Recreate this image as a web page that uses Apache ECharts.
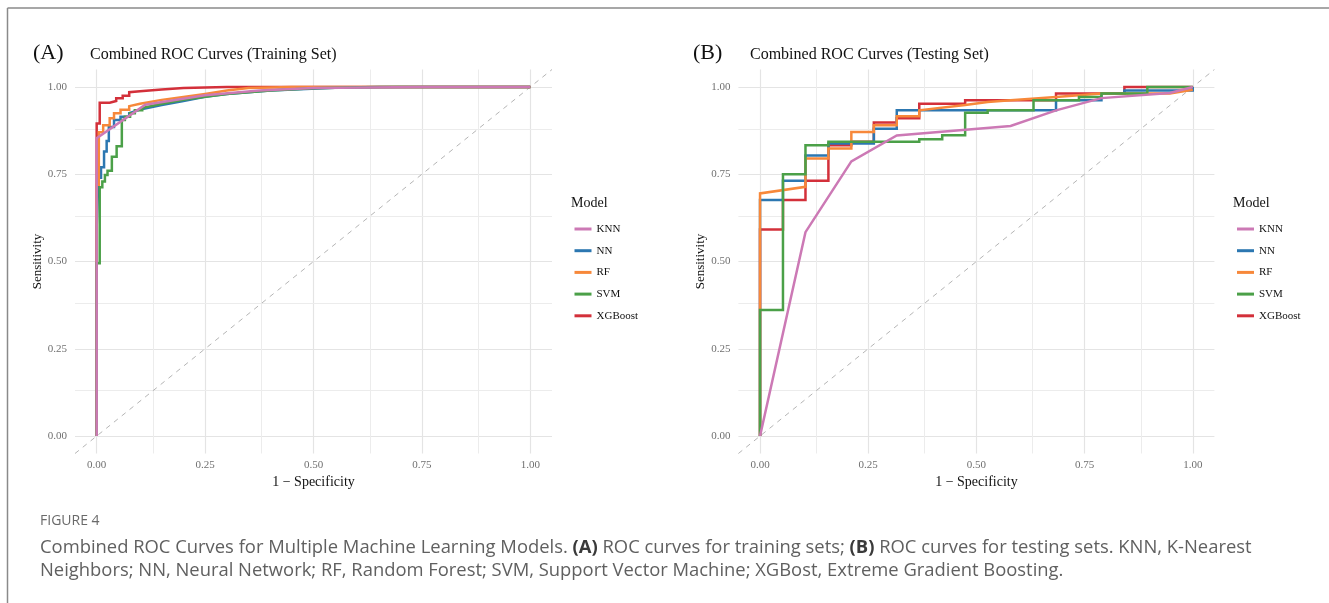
<!DOCTYPE html>
<html>
<head>
<meta charset="utf-8">
<script src="https://cdn.jsdelivr.net/npm/echarts@6/dist/echarts.min.js"></script>
<style>html,body{margin:0;padding:0;background:#fff;}#chart{width:1329px;height:603px;}</style>
</head>
<body>
<div id="chart"></div>
<script>
// ---- data ----
const models = ['KNN', 'NN', 'RF', 'SVM', 'XGBoost'];
const majorTicks = [0, 0.25, 0.5, 0.75, 1];
const minorTicks = [0.125, 0.375, 0.625, 0.875];
const refLine = [[-0.05, -0.05], [1.05, 1.05]];

// Training set ROC points [1 - specificity, sensitivity]
const trainKNN = [[0,0],[0,0.853],[0.112,0.949],[0.25,0.976],[0.375,0.99],[0.5,0.997],[0.75,1],[1,1]];
const trainNN = [[0,0],[0,0.6],[0.004,0.6],[0.004,0.74],[0.01,0.74],[0.01,0.77],[0.017,0.77],[0.017,0.815],[0.023,0.815],[0.023,0.845],[0.028,0.845],[0.028,0.885],[0.04,0.885],[0.04,0.905],[0.055,0.905],[0.055,0.915],[0.075,0.915],[0.075,0.925],[0.1,0.935],[0.15,0.948],[0.2,0.96],[0.25,0.972],[0.3,0.98],[0.4,0.99],[0.55,0.998],[0.65,1],[1,1]];
const trainRF = [[0,0],[0,0.72],[0.005,0.72],[0.005,0.87],[0.015,0.87],[0.015,0.89],[0.03,0.89],[0.03,0.91],[0.04,0.91],[0.04,0.925],[0.055,0.925],[0.055,0.935],[0.075,0.935],[0.075,0.945],[0.1,0.952],[0.15,0.963],[0.2,0.971],[0.25,0.98],[0.3,0.99],[0.35,0.997],[0.45,1],[1,1]];
const trainSVM = [[0,0],[0,0.495],[0.007,0.495],[0.007,0.713],[0.013,0.713],[0.013,0.729],[0.019,0.729],[0.019,0.748],[0.025,0.748],[0.025,0.76],[0.035,0.76],[0.035,0.8],[0.046,0.8],[0.046,0.83],[0.058,0.83],[0.058,0.905],[0.065,0.905],[0.065,0.915],[0.077,0.915],[0.077,0.925],[0.088,0.925],[0.088,0.933],[0.105,0.933],[0.105,0.94],[0.15,0.952],[0.2,0.963],[0.25,0.972],[0.3,0.98],[0.4,0.99],[0.5,0.996],[0.6,0.999],[0.7,1],[1,1]];
const trainXGB = [[0,0],[0,0.895],[0.007,0.895],[0.007,0.955],[0.03,0.955],[0.03,0.96],[0.045,0.96],[0.045,0.968],[0.06,0.968],[0.06,0.975],[0.075,0.975],[0.075,0.985],[0.1,0.988],[0.15,0.993],[0.2,0.997],[0.3,1],[1,1]];

// Testing set ROC points
const testKNN = [[0,0],[0.105,0.584],[0.211,0.787],[0.316,0.861],[0.579,0.888],[0.684,0.933],[0.789,0.968],[0.947,0.983],[1,1]];
const testNN = [[0,0],[0,0.676],[0.053,0.676],[0.053,0.731],[0.105,0.731],[0.105,0.804],[0.158,0.804],[0.158,0.838],[0.263,0.838],[0.263,0.88],[0.316,0.88],[0.316,0.933],[0.684,0.933],[0.684,0.962],[0.789,0.962],[0.789,0.981],[0.842,0.981],[0.842,0.99],[1,0.99],[1,1]];
const testRF = [[0,0],[0,0.695],[0.105,0.714],[0.105,0.795],[0.158,0.795],[0.158,0.824],[0.211,0.824],[0.211,0.871],[0.263,0.871],[0.263,0.89],[0.316,0.89],[0.316,0.916],[0.368,0.916],[0.368,0.933],[0.474,0.948],[0.526,0.957],[0.579,0.962],[0.684,0.971],[0.789,0.981],[0.947,0.981],[1,0.992]];
const testSVM = [[0,0],[0,0.361],[0.053,0.361],[0.053,0.75],[0.105,0.75],[0.105,0.833],[0.158,0.833],[0.158,0.843],[0.368,0.843],[0.368,0.85],[0.421,0.85],[0.421,0.862],[0.474,0.862],[0.474,0.926],[0.526,0.926],[0.526,0.933],[0.632,0.933],[0.632,0.962],[0.737,0.962],[0.737,0.971],[0.789,0.971],[0.789,0.981],[0.895,0.981],[0.895,1],[1,1]];
const testXGB = [[0,0],[0,0.592],[0.053,0.592],[0.053,0.676],[0.105,0.676],[0.105,0.731],[0.158,0.731],[0.158,0.833],[0.211,0.833],[0.211,0.843],[0.263,0.843],[0.263,0.898],[0.316,0.898],[0.316,0.91],[0.368,0.91],[0.368,0.952],[0.474,0.952],[0.474,0.962],[0.684,0.962],[0.684,0.981],[0.842,0.981],[0.842,1],[1,1]];

// ---- styling ----
const colors = {KNN:'#CC79B5', NN:'#2C77B1', RF:'#F7883A', SVM:'#4BA048', XGBoost:'#D3303A'};
const serif = 'Liberation Serif';
const drawOrder = ['XGBoost','NN','RF','SVM','KNN'];
const trainData = {KNN:trainKNN, NN:trainNN, RF:trainRF, SVM:trainSVM, XGBoost:trainXGB};
const testData = {KNN:testKNN, NN:testNN, RF:testRF, SVM:testSVM, XGBoost:testXGB};

const grids = [
  {left: 75, top: 69.5, width: 477, height: 384},
  {left: 738.4, top: 69.5, width: 476, height: 384}
];

function xAxisFor(i) {
  return {
    type: 'value', gridIndex: i, min: -0.05, max: 1.05,
    axisLine: {show: false}, axisTick: {show: false}, splitLine: {show: false},
    axisLabel: {customValues: majorTicks, formatter: v => v.toFixed(2), color: '#707070', fontFamily: serif, fontSize: 11, margin: 6},
    name: '1 \u2212 Specificity', nameLocation: 'middle', nameGap: 20,
    nameTextStyle: {fontFamily: serif, fontSize: 14, color: '#111'}
  };
}
function yAxisFor(i) {
  return {
    type: 'value', gridIndex: i, min: -0.05, max: 1.05,
    axisLine: {show: false}, axisTick: {show: false}, splitLine: {show: false},
    axisLabel: {customValues: majorTicks, formatter: v => v.toFixed(2), color: '#707070', fontFamily: serif, fontSize: 11, margin: 8},
    name: 'Sensitivity', nameLocation: 'middle', nameGap: 31,
    nameTextStyle: {fontFamily: serif, fontSize: 13, color: '#111'}
  };
}

const series = [];
[0, 1].forEach(i => {
  const ml = [];
  const major = {color: '#e4e4e4', width: 1.2, type: 'solid'};
  const minor = {color: '#ececec', width: 1, type: 'solid'};
  majorTicks.forEach(v => { ml.push({xAxis: v, lineStyle: major}); ml.push({yAxis: v, lineStyle: major}); });
  minorTicks.forEach(v => { ml.push({xAxis: v, lineStyle: minor}); ml.push({yAxis: v, lineStyle: minor}); });
  series.push({
    type: 'line', name: 'ref' + i, xAxisIndex: i, yAxisIndex: i, data: refLine,
    symbol: 'none', silent: true, z: 1, animation: false,
    lineStyle: {color: '#b5b5b5', width: 1, type: [5, 5]},
    markLine: {silent: true, symbol: ['none', 'none'], label: {show: false}, animation: false,
      lineStyle: {type: 'solid'}, data: ml, z: 0}
  });
  const src = i === 0 ? trainData : testData;
  drawOrder.forEach((m, k) => {
    series.push({
      type: 'line', name: m, xAxisIndex: i, yAxisIndex: i, data: src[m],
      symbol: 'none', showSymbol: false, animation: false, z: 3 + k,
      itemStyle: {color: colors[m]},
      lineStyle: {color: colors[m], width: 2.5, join: 'miter'}
    });
  });
});

const legendBase = {
  orient: 'vertical', data: models, icon: 'rect', itemWidth: 17, itemHeight: 3,
  itemGap: 10.7, padding: 0, selectedMode: false,
  textStyle: {fontFamily: serif, fontSize: 11, color: '#111'}
};

const captionRich = {
  n: {fontFamily: 'Open Sans', fontSize: 18.4, fill: '#606060', color: '#606060'},
  b: {fontFamily: 'Open Sans', fontSize: 18.4, fontWeight: 'bold', fill: '#3a3a3a', color: '#3a3a3a'}
};

const option = {
  backgroundColor: '#fff',
  animation: false,
  grid: grids,
  xAxis: [xAxisFor(0), xAxisFor(1)],
  yAxis: [yAxisFor(0), yAxisFor(1)],
  legend: [
    Object.assign({}, legendBase, {left: 574.5, top: 223.5}),
    Object.assign({}, legendBase, {left: 1237, top: 223.5})
  ],
  title: [
    {text: 'Model', left: 571, top: 196, padding: 0, textStyle: {fontFamily: serif, fontSize: 14, fontWeight: 'normal', color: '#111'}},
    {text: 'Model', left: 1233, top: 196, padding: 0, textStyle: {fontFamily: serif, fontSize: 14, fontWeight: 'normal', color: '#111'}}
  ],
  graphic: [
    {type: 'line', shape: {x1: 7.5, y1: 8, x2: 1329, y2: 8}, style: {stroke: '#8a8a8a', lineWidth: 1.5}, silent: true},
    {type: 'line', shape: {x1: 7.5, y1: 8, x2: 7.5, y2: 603}, style: {stroke: '#8a8a8a', lineWidth: 1.5}, silent: true},
    {type: 'text', x: 33, y: 53, style: {text: '(A)', font: '22px "Liberation Serif"', fill: '#111', textVerticalAlign: 'middle'}},
    {type: 'text', x: 90, y: 55, style: {text: 'Combined ROC Curves (Training Set)', font: '16px "Liberation Serif"', fill: '#111', textVerticalAlign: 'middle'}},
    {type: 'text', x: 693, y: 53, style: {text: '(B)', font: '22px "Liberation Serif"', fill: '#111', textVerticalAlign: 'middle'}},
    {type: 'text', x: 750, y: 55, style: {text: 'Combined ROC Curves (Testing Set)', font: '16px "Liberation Serif"', fill: '#111', textVerticalAlign: 'middle'}},
    {type: 'text', x: 40, y: 521, style: {text: 'FIGURE 4', font: '14px "Open Sans"', fill: '#6a6a6a', textVerticalAlign: 'middle'}},
    {type: 'text', x: 40, y: 548, style: {text: '{n|Combined ROC Curves for Multiple Machine Learning Models. }{b|(A)}{n| ROC curves for training sets; }{b|(B)}{n| ROC curves for testing sets. KNN, K-Nearest}', rich: captionRich, textVerticalAlign: 'middle'}},
    {type: 'text', x: 40, y: 571, style: {text: 'Neighbors; NN, Neural Network; RF, Random Forest; SVM, Support Vector Machine; XGBost, Extreme Gradient Boosting.', font: '18.4px "Open Sans"', fill: '#606060', textVerticalAlign: 'middle'}}
  ],
  series: series
};

const chart = echarts.init(document.getElementById('chart'), null, {renderer: 'canvas'});
chart.setOption(option);
</script>
</body>
</html>
